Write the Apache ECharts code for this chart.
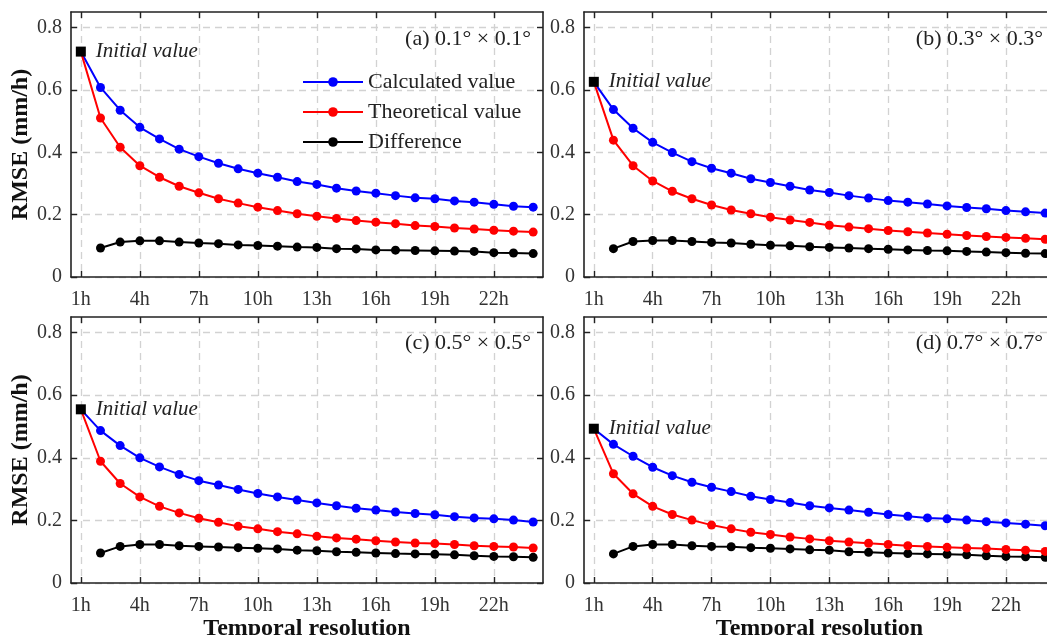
<!DOCTYPE html>
<html><head><meta charset="utf-8">
<script src="https://cdn.jsdelivr.net/npm/echarts@6/dist/echarts.min.js"></script>
<style>html,body{margin:0;padding:0;background:#fff}#c{width:1047px;height:635px}</style>
</head><body><div id="c"></div>
<script>
// ---- data ----
const hours = [1,2,3,4,5,6,7,8,9,10,11,12,13,14,15,16,17,18,19,20,21,22,23,24];
const tickHours = [1,4,7,10,13,16,19,22];
const yTicks = [0,0.2,0.4,0.6,0.8];
const panelTitles = ['(a) 0.1° × 0.1°','(b) 0.3° × 0.3°','(c) 0.5° × 0.5°','(d) 0.7° × 0.7°'];
const seriesNames = ['Calculated value','Theoretical value','Difference'];
const initialLabel = 'Initial value';
const xName = 'Temporal resolution';
const yName = 'RMSE (mm/h)';

// initial values (1h)
const initialValues = [0.723, 0.626, 0.555, 0.493];

// values for 2h..24h
const calcA = [0.608,0.535,0.480,0.443,0.410,0.386,0.365,0.347,0.333,0.320,0.306,0.297,0.285,0.276,0.269,0.261,0.254,0.251,0.244,0.240,0.233,0.227,0.224];
const theoA = [0.510,0.416,0.357,0.320,0.291,0.270,0.251,0.237,0.224,0.213,0.203,0.195,0.188,0.181,0.176,0.171,0.165,0.162,0.157,0.154,0.150,0.147,0.144];
const diffA = [0.093,0.112,0.116,0.116,0.112,0.109,0.107,0.103,0.101,0.099,0.096,0.095,0.091,0.090,0.087,0.086,0.085,0.084,0.083,0.082,0.078,0.077,0.075];

const calcB = [0.537,0.477,0.432,0.399,0.370,0.349,0.333,0.315,0.303,0.291,0.279,0.271,0.261,0.253,0.245,0.240,0.234,0.228,0.223,0.219,0.213,0.209,0.205];
const theoB = [0.439,0.357,0.308,0.275,0.251,0.231,0.215,0.203,0.192,0.183,0.175,0.166,0.160,0.155,0.149,0.145,0.141,0.137,0.133,0.130,0.127,0.124,0.121];
const diffB = [0.091,0.114,0.117,0.117,0.114,0.111,0.109,0.105,0.102,0.100,0.097,0.095,0.093,0.091,0.089,0.087,0.085,0.084,0.082,0.080,0.078,0.076,0.075];

const calcC = [0.487,0.439,0.400,0.371,0.347,0.327,0.313,0.299,0.286,0.275,0.265,0.256,0.247,0.239,0.233,0.227,0.222,0.218,0.212,0.208,0.205,0.201,0.195];
const theoC = [0.389,0.318,0.275,0.245,0.224,0.207,0.194,0.181,0.173,0.164,0.157,0.149,0.144,0.140,0.135,0.131,0.128,0.126,0.123,0.119,0.117,0.115,0.112];
const diffC = [0.096,0.117,0.123,0.123,0.119,0.117,0.115,0.113,0.111,0.109,0.105,0.103,0.100,0.098,0.096,0.094,0.093,0.092,0.090,0.087,0.085,0.084,0.082];

const calcD = [0.443,0.405,0.370,0.343,0.322,0.306,0.292,0.277,0.267,0.257,0.247,0.240,0.233,0.226,0.219,0.213,0.208,0.205,0.201,0.196,0.192,0.188,0.183];
const theoD = [0.349,0.285,0.245,0.219,0.201,0.185,0.173,0.162,0.155,0.147,0.141,0.135,0.131,0.127,0.123,0.119,0.117,0.114,0.112,0.110,0.107,0.105,0.101];
const diffD = [0.093,0.117,0.123,0.123,0.119,0.117,0.116,0.113,0.111,0.109,0.106,0.105,0.100,0.098,0.096,0.094,0.093,0.092,0.090,0.087,0.085,0.084,0.082];

const calcAll = [calcA, calcB, calcC, calcD];
const theoAll = [theoA, theoB, theoC, theoD];
const diffAll = [diffA, diffB, diffC, diffD];

// ---- layout / style ----
const FONT = '"Liberation Serif", "DejaVu Serif", serif';
const AX = '#222';
const grids = [
  {left: 71, top: 12, width: 472, height: 265, outerBoundsMode: 'none'},
  {left: 584, top: 12, width: 471, height: 265, outerBoundsMode: 'none'},
  {left: 71, top: 317, width: 472, height: 266, outerBoundsMode: 'none'},
  {left: 584, top: 317, width: 471, height: 266, outerBoundsMode: 'none'}
];
const titlePos = [
  {right: 1047 - 531, top: 28},
  {right: 4, top: 28},
  {right: 1047 - 531, top: 332},
  {right: 4, top: 332}
];
const colors = ['#0000ff', '#ff0000', '#000000'];

const xAxes = [], yAxes = [], series = [], titles = [];
for (let i = 0; i < 4; i++) {
  const bottomRow = i >= 2, leftCol = i % 2 === 0;
  xAxes.push({
    type: 'value', gridIndex: i, min: 0.5, max: 24.5, position: 'bottom',
    axisLine: {show: true, onZero: false, lineStyle: {color: AX, width: 1.6}},
    axisTick: {show: true, inside: true, length: 6, customValues: tickHours, lineStyle: {color: AX, width: 1.4}},
    axisLabel: {show: true, customValues: tickHours, formatter: '{value}h', fontFamily: FONT, fontSize: 20, color: '#333', margin: 13},
    splitLine: {show: true, lineStyle: {type: [7, 5], color: '#d2d2d2', width: 1.3}},
    name: bottomRow ? xName : '', nameLocation: 'middle', nameGap: 31,
    nameTextStyle: {fontFamily: FONT, fontSize: 24, fontWeight: 'bold', color: '#111'}
  });
  xAxes.push({
    type: 'value', gridIndex: i, min: 0.5, max: 24.5, position: 'top',
    axisLine: {show: true, onZero: false, lineStyle: {color: AX, width: 1.6}},
    axisTick: {show: true, inside: true, length: 6, customValues: tickHours, lineStyle: {color: AX, width: 1.4}},
    axisLabel: {show: false}, splitLine: {show: false}
  });
  yAxes.push({
    type: 'value', gridIndex: i, min: 0, max: 0.85, position: 'left',
    axisLine: {show: true, onZero: false, lineStyle: {color: AX, width: 1.6}},
    axisTick: {show: true, inside: true, length: 6, customValues: yTicks, lineStyle: {color: AX, width: 1.4}},
    axisLabel: {show: true, customValues: yTicks, fontFamily: FONT, fontSize: 20, color: '#333', margin: 9},
    splitLine: {show: true, lineStyle: {type: [7, 5], color: '#d2d2d2', width: 1.3}},
    name: leftCol ? yName : '', nameLocation: 'middle', nameGap: 38,
    nameTextStyle: {fontFamily: FONT, fontSize: 24, fontWeight: 'bold', color: '#111'}
  });
  yAxes.push({
    type: 'value', gridIndex: i, min: 0, max: 0.85, position: 'right',
    axisLine: {show: true, onZero: false, lineStyle: {color: AX, width: 1.6}},
    axisTick: {show: true, inside: true, length: 6, customValues: yTicks, lineStyle: {color: AX, width: 1.4}},
    axisLabel: {show: false}, splitLine: {show: false}
  });
  const xi = i * 2, yi = i * 2;
  const init = initialValues[i];
  const mk = (arr, withInit) => {
    const d = [];
    if (withInit) d.push({value: [hours[0], init], symbol: 'none'});
    arr.forEach((v, j) => d.push([hours[j + 1], v]));
    return d;
  };
  const lists = [[calcAll[i], true], [theoAll[i], true], [diffAll[i], false]];
  lists.forEach((l, k) => {
    series.push({
      type: 'line', name: seriesNames[k], xAxisIndex: xi, yAxisIndex: yi,
      data: mk(l[0], l[1]), symbol: 'circle', symbolSize: 9, showSymbol: true,
      lineStyle: {color: colors[k], width: 2}, itemStyle: {color: colors[k]},
      z: 3 + (k === 1 ? 1 : 0), animation: false
    });
  });
  series.push({
    type: 'scatter', name: 'init' + i, xAxisIndex: xi, yAxisIndex: yi,
    data: [[hours[0], init]], symbol: 'rect', symbolSize: 10, z: 6,
    itemStyle: {color: '#000', opacity: 1}, animation: false,
    label: {show: true, position: 'right', distance: 10, formatter: initialLabel,
      fontFamily: FONT, fontSize: 21, fontStyle: 'italic', color: '#222'}
  });
  titles.push(Object.assign({text: panelTitles[i], padding: 0,
    textStyle: {fontFamily: FONT, fontSize: 22, fontWeight: 'normal', color: '#222'}}, titlePos[i]));
}

const chart = echarts.init(document.getElementById('c'), null, {renderer: 'canvas'});
chart.setOption({
  backgroundColor: '#fff',
  animation: false,
  title: titles,
  grid: grids,
  xAxis: xAxes,
  yAxis: yAxes,
  legend: {
    data: seriesNames, orient: 'vertical', left: 302, top: 71, padding: 0,
    itemWidth: 60, itemHeight: 12, itemGap: 8,
    textStyle: {fontFamily: FONT, fontSize: 22, color: '#222'},
    selectedMode: false
  },
  series: series
});
</script></body></html>
